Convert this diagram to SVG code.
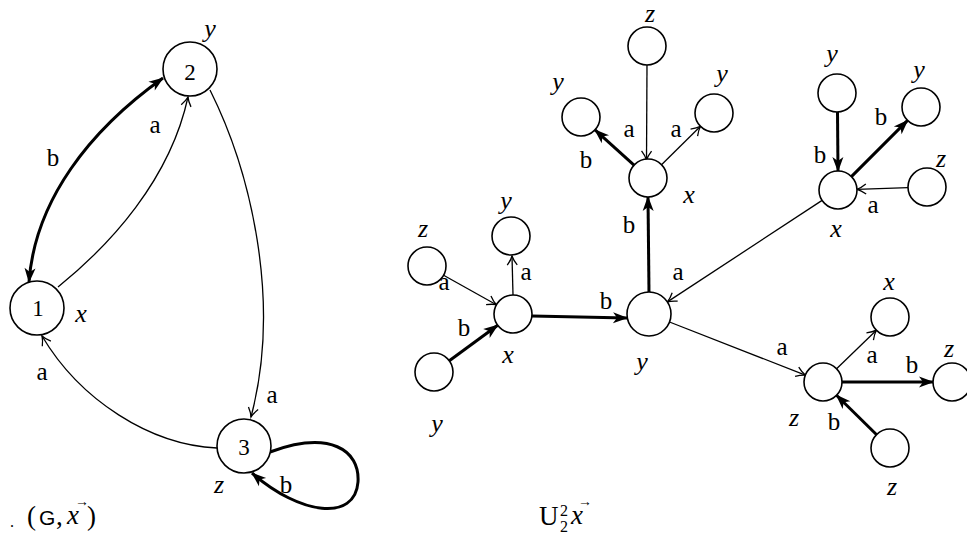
<svg xmlns="http://www.w3.org/2000/svg" width="967" height="539" viewBox="0 0 967 539">
<style>
.node{fill:#fff;stroke:#000;stroke-width:1.6}
.thin{fill:none;stroke:#000;stroke-width:1.3;marker-end:url(#open)}
.thick{fill:none;stroke:#000;stroke-width:3;marker-end:url(#filled)}
.lib{font-family:"Liberation Serif","Times New Roman",serif;fill:#000}
.lbl{font-size:25px;text-anchor:middle}
.var{font-style:italic;font-size:26px;text-anchor:middle}
.num{font-size:23px;text-anchor:middle}
.cap{font-size:27px}
.sans{font-family:"Liberation Sans",sans-serif;font-size:21px;fill:#000}
</style>
<defs>
<marker id="open" viewBox="-12 -7 14 14" refX="0" refY="0" markerWidth="14" markerHeight="14" markerUnits="userSpaceOnUse" orient="auto">
<path d="M-9,-5 Q-4,-1.2 0,0 Q-4,1.2 -9,5" fill="none" stroke="#000" stroke-width="1.3"/>
</marker>
<marker id="filled" viewBox="-16 -8 18 16" refX="0" refY="0" markerWidth="18" markerHeight="16" markerUnits="userSpaceOnUse" orient="auto-start-reverse">
<path d="M-14,-5.5 L1,0 L-14,5.5 L-10,0 z" fill="#000"/>
</marker>
</defs>
<rect width="967" height="539" fill="#fff"/>

<g id="left-edges">
<path class="thick" d="M29,282 C35,200 90,130 163,78" style="marker-start:url(#filled)"/>
<path class="thin" d="M58,287 C110,245 170,180 188,97"/>
<path class="thin" d="M210,90 C250,170 282,300 251,417"/>
<path class="thin" d="M217,448 C150,445 80,400 42,336"/>
<path class="thick" d="M270,452 C330,430 360,450 358,482 C355,522 300,515 252,473"/>
</g>
<g id="left-edge-labels">
<text class="lib lbl" x="53" y="166">b</text>
<text class="lib lbl" x="155" y="133">a</text>
<text class="lib lbl" x="272" y="403">a</text>
<text class="lib lbl" x="42" y="380">a</text>
<text class="lib lbl" x="286" y="493">b</text>
</g>
<g id="g1">
<circle class="node" cx="37" cy="308" r="27"/>
<text class="lib num" x="38" y="316">1</text>
<text class="lib var" x="81" y="322">x</text>
</g>
<g id="g2">
<circle class="node" cx="190" cy="69" r="27"/>
<text class="lib num" x="190" y="80">2</text>
<text class="lib var" x="210" y="37">y</text>
</g>
<g id="g3">
<circle class="node" cx="244" cy="446" r="27"/>
<text class="lib num" x="244" y="455">3</text>
<text class="lib var" x="219" y="493">z</text>
</g>
<g id="caption-left">
<text class="lib cap" x="10" y="527" style="font-size:16px">.</text>
<text class="lib cap" x="27" y="525">(</text>
<text class="sans" x="39" y="525">G</text>
<text class="lib cap" x="56" y="525">,</text>
<text class="lib cap" x="67" y="524" font-style="italic">x</text>
<text class="lib cap" x="75" y="506" style="font-size:14px">→</text>
<text class="lib cap" x="87" y="525">)</text>
</g>

<g id="tree-edges">
<line class="thin" x1="443.6" y1="275.3" x2="496.4" y2="304.7"/>
<line class="thick" x1="449.3" y1="360.8" x2="497.7" y2="325.2"/>
<line class="thin" x1="513" y1="295" x2="512" y2="256"/>
<line class="thick" x1="532" y1="316" x2="627" y2="318"/>
<line class="thick" x1="649" y1="292" x2="648" y2="197"/>
<line class="thin" x1="647" y1="65" x2="646.5" y2="160"/>
<line class="thin" x1="661.5" y1="164.7" x2="700.5" y2="126.3"/>
<line class="thick" x1="634" y1="165.2" x2="595" y2="129.8"/>
<line class="thick" x1="837.5" y1="112" x2="838" y2="171"/>
<line class="thick" x1="851.4" y1="176.6" x2="907.6" y2="120.4"/>
<line class="thin" x1="908" y1="187.6" x2="857" y2="189.4"/>
<line class="thin" x1="822.1" y1="200.4" x2="667.4" y2="301.9"/>
<line class="thin" x1="669.5" y1="322" x2="805.3" y2="375.1"/>
<line class="thin" x1="836.6" y1="368.8" x2="876.4" y2="330.2"/>
<line class="thick" x1="842" y1="382" x2="933" y2="382"/>
<line class="thick" x1="883" y1="441" x2="836.5" y2="395.3"/>
</g>
<g id="tree-edge-labels">
<text class="lib lbl" x="444" y="290">a</text>
<text class="lib lbl" x="464" y="336">b</text>
<text class="lib lbl" x="526" y="280">a</text>
<text class="lib lbl" x="606" y="309">b</text>
<text class="lib lbl" x="629" y="233">b</text>
<text class="lib lbl" x="629" y="137">a</text>
<text class="lib lbl" x="676" y="137">a</text>
<text class="lib lbl" x="586" y="168">b</text>
<text class="lib lbl" x="820" y="163">b</text>
<text class="lib lbl" x="881" y="125">b</text>
<text class="lib lbl" x="873" y="213">a</text>
<text class="lib lbl" x="678" y="280">a</text>
<text class="lib lbl" x="782" y="355">a</text>
<text class="lib lbl" x="872" y="363">a</text>
<text class="lib lbl" x="912" y="373">b</text>
<text class="lib lbl" x="834" y="430">b</text>
</g>
<g id="t-center"><circle class="node" cx="649" cy="314" r="22"/><text class="lib var" x="642" y="370">y</text></g>
<g id="t-x1"><circle class="node" cx="513" cy="314" r="19"/><text class="lib var" x="508" y="363">x</text></g>
<g id="t-y1"><circle class="node" cx="511" cy="236" r="19"/><text class="lib var" x="506" y="209">y</text></g>
<g id="t-z1"><circle class="node" cx="427" cy="266" r="19"/><text class="lib var" x="423" y="237">z</text></g>
<g id="t-y2"><circle class="node" cx="434" cy="372" r="19"/><text class="lib var" x="437" y="432">y</text></g>
<g id="t-x2"><circle class="node" cx="648" cy="178" r="19"/><text class="lib var" x="689" y="203">x</text></g>
<g id="t-z2"><circle class="node" cx="647" cy="46" r="19"/><text class="lib var" x="650" y="22">z</text></g>
<g id="t-y3"><circle class="node" cx="581" cy="117" r="19"/><text class="lib var" x="558" y="90">y</text></g>
<g id="t-y4"><circle class="node" cx="714" cy="113" r="19"/><text class="lib var" x="722" y="82">y</text></g>
<g id="t-x3"><circle class="node" cx="838" cy="190" r="19"/><text class="lib var" x="836" y="237">x</text></g>
<g id="t-y5"><circle class="node" cx="837" cy="93" r="19"/><text class="lib var" x="832" y="62">y</text></g>
<g id="t-y6"><circle class="node" cx="921" cy="107" r="19"/><text class="lib var" x="919" y="78">y</text></g>
<g id="t-z3"><circle class="node" cx="927" cy="187" r="19"/><text class="lib var" x="941" y="167">z</text></g>
<g id="t-z4"><circle class="node" cx="823" cy="382" r="19"/><text class="lib var" x="794" y="426">z</text></g>
<g id="t-x4"><circle class="node" cx="890" cy="317" r="19"/><text class="lib var" x="889" y="290">x</text></g>
<g id="t-z5"><circle class="node" cx="952" cy="382" r="19"/><text class="lib var" x="949" y="357">z</text></g>
<g id="t-z6"><circle class="node" cx="890" cy="448" r="19"/><text class="lib var" x="892" y="495">z</text></g>
<g id="caption-right">
<text class="lib cap" x="539" y="525">U</text>
<text class="lib cap" x="560" y="516" style="font-size:16px">2</text>
<text class="lib cap" x="560" y="532" style="font-size:16px">2</text>
<text class="lib cap" x="571" y="524" font-style="italic">x</text>
<text class="lib cap" x="578" y="506" style="font-size:14px">→</text>
</g>
</svg>
